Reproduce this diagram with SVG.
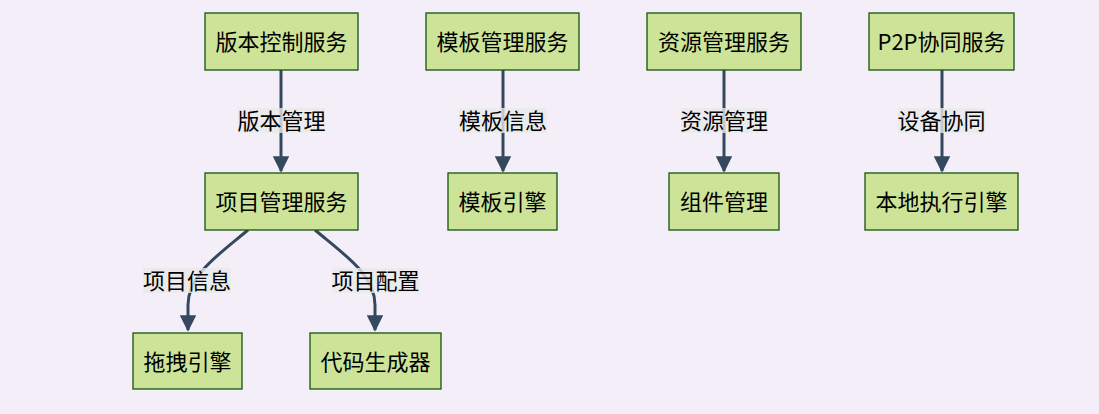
<svg xmlns="http://www.w3.org/2000/svg" width="1099" height="414" viewBox="0 0 1099 414">
<style>
.node rect{fill:#cde498;stroke:#13540c;stroke-width:1.3}
.node text,.lbl text{font-family:"Noto Sans CJK SC","Noto Sans",sans-serif;font-size:22px;fill:#000;text-anchor:middle;dominant-baseline:central}
.edge{fill:none;stroke:#34495e;stroke-width:3}
.lbl rect{fill:#e8e8e8;opacity:0.8}
</style>
<defs>
<marker id="ah" viewBox="0 0 10 10" refX="9" refY="5" markerWidth="5.5" markerHeight="5.5" markerUnits="strokeWidth" orient="auto">
<path d="M0,0 L10,5 L0,10 z" fill="#34495e"/>
</marker>
</defs>
<rect width="1099" height="414" fill="#f4eef8"/>
<g id="edges">
<path class="edge" d="M281,70 L281,171" marker-end="url(#ah)"/>
<path class="edge" d="M503,70 L503,171" marker-end="url(#ah)"/>
<path class="edge" d="M724,70 L724,171" marker-end="url(#ah)"/>
<path class="edge" d="M942,70 L942,171" marker-end="url(#ah)"/>
<path class="edge" d="M248,230 C218,255 188,275 188,305 L188,330" marker-end="url(#ah)"/>
<path class="edge" d="M315,230 C345,255 375,275 375,305 L375,330" marker-end="url(#ah)"/>
<g class="lbl">
<rect x="238" y="108" width="87" height="25"/><text x="281.5" y="119">版本管理</text>
<rect x="459" y="108" width="88" height="25"/><text x="503" y="119">模板信息</text>
<rect x="681" y="108" width="87" height="25"/><text x="724" y="119">资源管理</text>
<rect x="898" y="108" width="87" height="25"/><text x="941.5" y="119">设备协同</text>
<rect x="143" y="268" width="88" height="25"/><text x="187" y="279">项目信息</text>
<rect x="332" y="268" width="87" height="25"/><text x="375.5" y="279">项目配置</text>
</g>
</g>
<g id="n1" class="node"><rect x="205" y="13" width="153" height="57"/><text x="281.5" y="40">版本控制服务</text></g>
<g id="n2" class="node"><rect x="205" y="173" width="153" height="57"/><text x="281.5" y="200">项目管理服务</text></g>
<g id="n3" class="node"><rect x="426" y="13" width="153" height="57"/><text x="502.5" y="40">模板管理服务</text></g>
<g id="n4" class="node"><rect x="448" y="173" width="109" height="57"/><text x="502.5" y="200">模板引擎</text></g>
<g id="n5" class="node"><rect x="647" y="13" width="154" height="57"/><text x="724" y="40">资源管理服务</text></g>
<g id="n6" class="node"><rect x="669" y="173" width="110" height="57"/><text x="724" y="200">组件管理</text></g>
<g id="n7" class="node"><rect x="869" y="13" width="145" height="57"/><text x="941.5" y="40">P2P协同服务</text></g>
<g id="n8" class="node"><rect x="865" y="173" width="153" height="57"/><text x="941.5" y="200">本地执行引擎</text></g>
<g id="n9" class="node"><rect x="133" y="333" width="109" height="56"/><text x="187.5" y="359.5">拖拽引擎</text></g>
<g id="n10" class="node"><rect x="310" y="333" width="131" height="56"/><text x="375.5" y="359.5">代码生成器</text></g>
</svg>
